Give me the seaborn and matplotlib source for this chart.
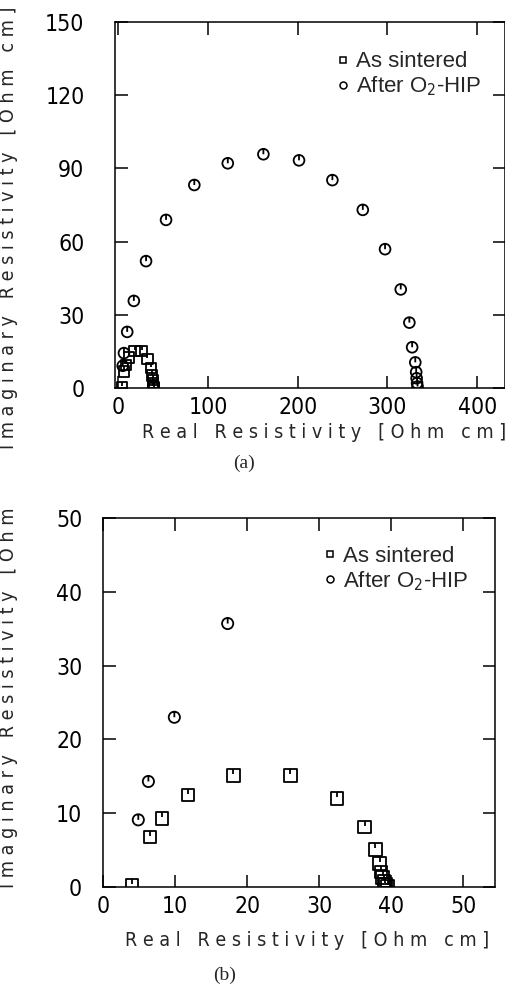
import matplotlib
matplotlib.use("Agg")
import matplotlib.pyplot as plt
from matplotlib.path import Path
from matplotlib.lines import Line2D
import seaborn as sns
import pandas as pd

# ---------------- data ----------------
series_names = ["As sintered", "After O$_2$-HIP"]

sint_x = [4.0, 6.5, 8.2, 11.8, 18.1, 26.0, 32.5, 36.3, 37.8, 38.4, 38.6, 38.8, 39.0, 39.2, 39.5]
sint_y = [0.3, 6.8, 9.3, 12.5, 15.1, 15.1, 12.0, 8.1, 5.1, 3.2, 2.0, 1.3, 0.8, 0.4, 0.1]

hip_x = [4.9, 6.3, 9.9, 17.3, 30.9, 53.2, 84.7, 122.0, 161.7, 201.4, 238.6, 272.5, 297.3,
         314.8, 324.4, 327.5, 331.0, 332.0, 332.5, 333.0, 333.5]
hip_y = [9.1, 14.3, 23.0, 35.7, 52.0, 68.9, 83.2, 92.1, 95.8, 93.3, 85.2, 73.0, 56.9,
         40.4, 26.8, 16.7, 10.5, 6.5, 4.0, 2.0, 0.6]

xticks_a = [0, 100, 200, 300, 400]
yticks_a = [0, 30, 60, 90, 120, 150]
xticks_b = [0, 10, 20, 30, 40, 50]
yticks_b = [0, 10, 20, 30, 40, 50]

xlabel = "Real Resistivity [Ohm cm]"
ylabel_a = "Imaginary Resistivity [Ohm cm]"
ylabel_b = "Imaginary Resistivity [Ohm"

# ---------------- fonts ----------------
sansf = "Liberation Sans"
serif = "Liberation Serif"

sns.set_theme(style="ticks")
plt.rcParams["font.family"] = ["DejaVu Sans"]
plt.rcParams["font.stretch"] = "condensed"
plt.rcParams["axes.linewidth"] = 1.1
plt.rcParams["axes.edgecolor"] = "black"

def spaced(s):
    words = s.split(" ")
    return "   ".join(" ".join(list(w)) for w in words)

# ---------------- markers ----------------
circ = Path.unit_circle()
tick_c = Path([(0, 1), (0, 0)], [Path.MOVETO, Path.LINETO])
circ_marker = Path.make_compound_path(circ, tick_c)
sq = Path([(-1, -1), (1, -1), (1, 1), (-1, 1), (-1, -1)],
          [Path.MOVETO, Path.LINETO, Path.LINETO, Path.LINETO, Path.CLOSEPOLY])
tick_s = Path([(0, 1), (0, 0.2)], [Path.MOVETO, Path.LINETO])
sq_marker = Path.make_compound_path(sq, tick_s)

df_s = pd.DataFrame({"x": sint_x, "y": sint_y})
df_h = pd.DataFrame({"x": hip_x, "y": hip_y})

W, H = 506, 985
fig = plt.figure(figsize=(W / 100, H / 100), dpi=100)

def frac_rect(l, r, t, b):
    return [l / W, 1 - b / H, (r - l) / W, (b - t) / H]

ax_a = fig.add_axes(frac_rect(115, 505, 22, 388))
ax_b = fig.add_axes(frac_rect(103, 495, 518, 887))

def draw(ax, xlim, ylim, xt, yt, ypad, sq_s, c_s):
    sns.scatterplot(data=df_s, x="x", y="y", ax=ax, marker=sq_marker, s=sq_s,
                    facecolor="none", edgecolor="black", linewidth=1.3, legend=False, clip_on=True)
    sns.scatterplot(data=df_h, x="x", y="y", ax=ax, marker=circ_marker, s=c_s,
                    facecolor="none", edgecolor="black", linewidth=1.3, legend=False, clip_on=True)
    ax.set_xlim(*xlim)
    ax.set_ylim(*ylim)
    ax.set_xticks(xt)
    ax.set_yticks(yt)
    ax.set_xlabel("")
    ax.set_ylabel("")
    ax.tick_params(direction="in", length=9, width=1.1, top=True, right=True,
                   labelsize=16.5, colors="black")
    ax.tick_params(axis="y", pad=ypad)
    ax.tick_params(axis="x", pad=6)
    for sp in ax.spines.values():
        sp.set_visible(True)
        sp.set_color("black")
    handles = [Line2D([], [], marker="s", ls="none", mfc="none", mec="black", ms=5, mew=1.1),
               Line2D([], [], marker="o", ls="none", mfc="none", mec="black", ms=5, mew=1.1)]
    return handles

h = draw(ax_a, (-3.7, 431), (0, 150), xticks_a, yticks_a, 22, 55, 60)
ax_a.legend(h, series_names, loc="upper left", bbox_to_anchor=(0.54, 0.95), frameon=False,
            handlelength=0.6, handletextpad=0.25, labelspacing=0.1, borderpad=0,
            prop={"family": sansf, "size": 16})
h = draw(ax_b, (0, 54.4), (0, 50), xticks_b, yticks_b, 15, 80, 65)
ax_b.legend(h, series_names, loc="upper left", bbox_to_anchor=(0.535, 0.955), frameon=False,
            handlelength=0.6, handletextpad=0.25, labelspacing=0.1, borderpad=0,
            prop={"family": sansf, "size": 16})

# axis labels
fig.text(324 / W, 1 - 433 / H, spaced(xlabel), ha="center", va="center", fontsize=14)
fig.text(307 / W, 1 - 940 / H, spaced(xlabel), ha="center", va="center", fontsize=14)
fig.text(9 / W, 1 - 228 / H, spaced(ylabel_a), ha="center", va="center", rotation=90, fontsize=14)
fig.text(9 / W, 1 - 698 / H, spaced(ylabel_b), ha="center", va="center", rotation=90, fontsize=14)

# captions
fig.text(244 / W, 1 - 463 / H, "(a)", ha="center", va="center", fontsize=14, family=serif)
fig.text(225 / W, 1 - 975 / H, "(b)", ha="center", va="center", fontsize=14, family=serif)

fig.savefig("out.png", dpi=100, facecolor="white")
